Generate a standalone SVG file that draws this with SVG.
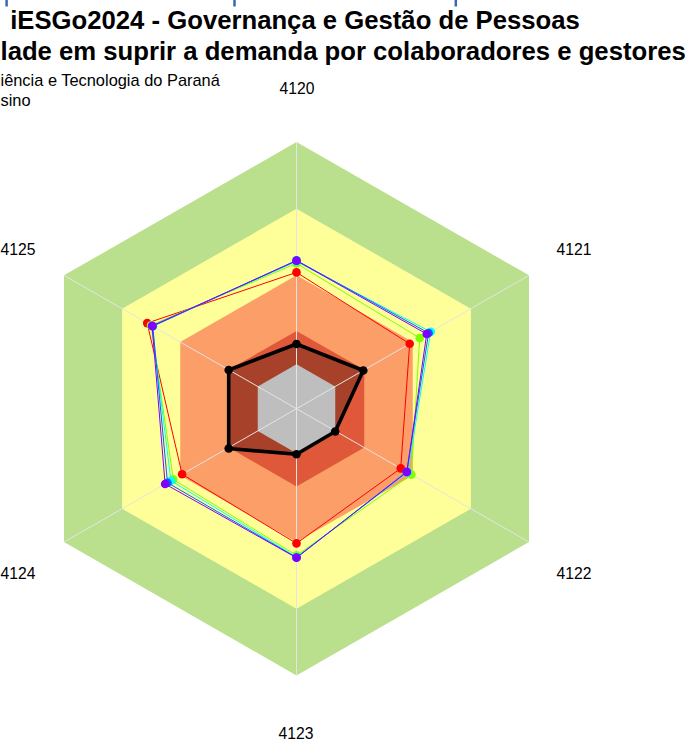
<svg xmlns="http://www.w3.org/2000/svg" width="689" height="742" viewBox="0 0 689 742">
<style>
text{font-family:"Liberation Sans",Arial,sans-serif;fill:#000}
.t{font-weight:bold;font-size:25.7px}
.s{font-size:16.4px}
.lab{font-size:15.7px;text-anchor:middle}
.ax{stroke:#E4E4E4;stroke-width:1}
.ser{fill:none;stroke-width:1}
.tick{stroke:#3A66B8;stroke-width:2.5}
</style>
<rect width="689" height="742" fill="#FFFFFF"/>
<g id="top-ticks">
<line class="tick" x1="6.6" y1="0" x2="6.6" y2="6.5"/>
<line class="tick" x1="234.5" y1="0" x2="234.5" y2="6.5"/>
<line class="tick" x1="455.8" y1="0" x2="455.8" y2="6.5"/>
</g>
<g id="title">
<text class="t" x="295" y="29" text-anchor="middle">iESGo2024 - Governança e Gestão de Pessoas</text>
<text class="t" x="0.5" y="60">lade em suprir a demanda por colaboradores e gestores</text>
<text class="s" x="0.5" y="86">iência e Tecnologia do Paraná</text>
<text class="s" x="0.5" y="106">sino</text>
</g>
<g id="bands">
<polygon id="band-green" fill="#BAE08E" points="296.5,142 529,275.35 529,542.05 296.5,675.4 64,542.05 64,275.35"/>
<polygon id="band-yellow" fill="#FFFF99" points="296.5,208.7 470.9,308.7 470.9,508.7 296.5,608.7 122.1,508.7 122.1,308.7"/>
<polygon id="band-salmon" fill="#FC9E67" points="296.5,275.35 412.75,342 412.75,475.4 296.5,542.05 180.25,475.4 180.25,342"/>
<polygon id="band-red" fill="#E0583A" points="296.5,330.9 364.3,369.8 364.3,447.6 296.5,486.5 228.7,447.6 228.7,369.8"/>
<polygon id="fill-black-series" fill="#A8412A" points="296.5,344 363.3,370.5 335.2,431.5 296.5,454.3 228.7,448.5 228.7,370"/>
<polygon id="band-gray" fill="#BEBEBE" points="296.5,364.25 335.25,386.5 335.25,430.9 296.5,453.15 257.75,430.9 257.75,386.5"/>
</g>
<g id="axes">
<line class="ax" x1="296.5" y1="408.7" x2="296.5" y2="142"/>
<line class="ax" x1="296.5" y1="408.7" x2="529" y2="275.35"/>
<line class="ax" x1="296.5" y1="408.7" x2="529" y2="542.05"/>
<line class="ax" x1="296.5" y1="408.7" x2="296.5" y2="675.4"/>
<line class="ax" x1="296.5" y1="408.7" x2="64" y2="542.05"/>
<line class="ax" x1="296.5" y1="408.7" x2="64" y2="275.35"/>
</g>
<g id="labels">
<text class="lab" x="297" y="94">4120</text>
<text class="lab" x="574" y="255">4121</text>
<text class="lab" x="574" y="579">4122</text>
<text class="lab" x="296" y="739">4123</text>
<text class="lab" x="18" y="579">4124</text>
<text class="lab" x="18" y="255">4125</text>
</g>
<g id="series-red">
<polygon class="ser" stroke="#FF0000" points="296.5,272.4 409.7,343.8 400.7,468.4 296.5,543.4 182.1,474.3 147.2,323.1"/>
<g fill="#FF0000"><circle cx="296.5" cy="272.4" r="4.3"/><circle cx="409.7" cy="343.8" r="4.3"/><circle cx="400.7" cy="468.4" r="4.3"/><circle cx="296.5" cy="543.4" r="4.3"/><circle cx="182.1" cy="474.3" r="4.3"/><circle cx="147.2" cy="323.1" r="4.3"/></g>
</g>
<g id="series-green">
<polygon class="ser" stroke="#80FF00" points="296.5,263.4 419.7,338 411.4,474.6 296.5,555.4 173.3,479.4 151,325.2"/>
<g fill="#80FF00"><circle cx="296.5" cy="263.4" r="4.3"/><circle cx="419.7" cy="338" r="4.3"/><circle cx="411.4" cy="474.6" r="4.3"/><circle cx="296.5" cy="555.4" r="4.3"/><circle cx="173.3" cy="479.4" r="4.3"/><circle cx="151" cy="325.2" r="4.3"/></g>
</g>
<g id="series-cyan">
<polygon class="ser" stroke="#00FFFF" points="296.5,261.5 430.7,331.8 407.6,472.4 296.5,557 170.9,480.7 151.9,325.8"/>
<g fill="#00FFFF"><circle cx="296.5" cy="261.5" r="4.3"/><circle cx="430.7" cy="331.8" r="4.3"/><circle cx="407.6" cy="472.4" r="4.3"/><circle cx="296.5" cy="557" r="4.3"/><circle cx="170.9" cy="480.7" r="4.3"/><circle cx="151.9" cy="325.8" r="4.3"/></g>
</g>
<g id="series-blue">
<polygon class="ser" stroke="#0060FF" points="296.5,260.4 428.6,333 406.7,471.9 296.5,557.5 167.5,482.7 152.8,326.3"/>
<g fill="#0060FF"><circle cx="296.5" cy="260.4" r="4.3"/><circle cx="428.6" cy="333" r="4.3"/><circle cx="406.7" cy="471.9" r="4.3"/><circle cx="296.5" cy="557.5" r="4.3"/><circle cx="167.5" cy="482.7" r="4.3"/><circle cx="152.8" cy="326.3" r="4.3"/></g>
</g>
<g id="series-purple">
<polygon class="ser" stroke="#8000FF" points="296.5,260.7 426.7,334 406.9,472 296.5,557.8 165.1,484 152.1,325.9"/>
<g fill="#8000FF"><circle cx="296.5" cy="260.7" r="4.3"/><circle cx="426.7" cy="334" r="4.3"/><circle cx="406.9" cy="472" r="4.3"/><circle cx="296.5" cy="557.8" r="4.3"/><circle cx="165.1" cy="484" r="4.3"/><circle cx="152.1" cy="325.9" r="4.3"/></g>
</g>
<g id="series-black">
<polygon fill="none" stroke="#000000" stroke-width="3.6" stroke-linejoin="round" points="296.5,344 363.3,370.5 335.2,431.5 296.5,454.3 228.7,448.5 228.7,370"/>
<g fill="#000000"><circle cx="296.5" cy="344" r="4.3"/><circle cx="363.3" cy="370.5" r="4.3"/><circle cx="335.2" cy="431.5" r="4.3"/><circle cx="296.5" cy="454.3" r="4.3"/><circle cx="228.7" cy="448.5" r="4.3"/><circle cx="228.7" cy="370" r="4.3"/></g>
</g>
</svg>
